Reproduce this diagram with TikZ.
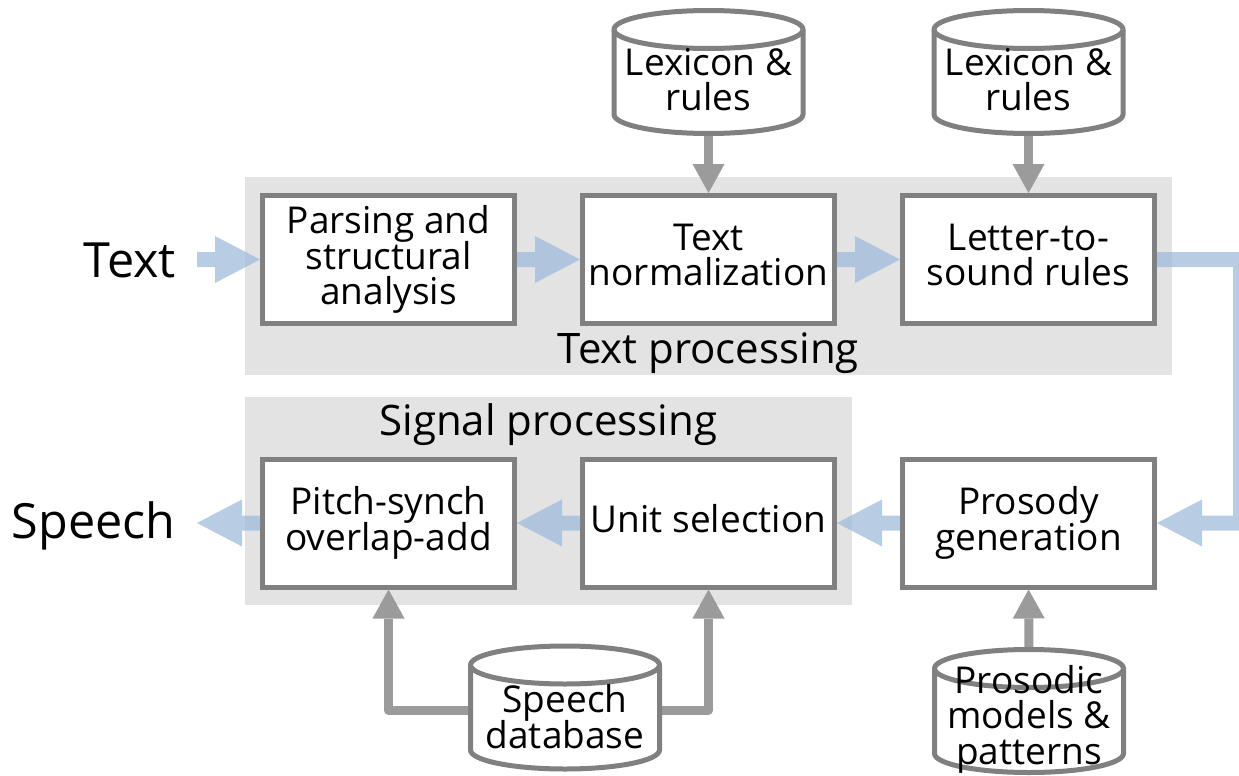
\documentclass[tikz,border=0pt]{standalone}
\usepackage{fontspec}
\setmainfont{Open Sans}
\usetikzlibrary{arrows.meta}

\definecolor{panelgray}{HTML}{E3E3E3}
\definecolor{boxgray}{HTML}{808080}
\definecolor{flowblue}{RGB}{160,187,219}
\definecolor{datagray}{HTML}{9B9B9B}

% body text: fixed line pitch, every line gets the same ascent/descent
\newcommand{\bodyfont}{\fontsize{37}{35.5}\selectfont\lineskiplimit=-30pt\relax}
\newcommand{\groupfont}{\fontsize{42}{44}\selectfont}
\newcommand{\termfont}{\fontsize{48.5}{50}\selectfont}
\newcommand{\linestrut}{\vrule width 0pt height 27pt depth 9pt\relax}

% a data store drum: centre x, centre y (path half-width 94.5, half-height 61.5, cap radius 19)
\newcommand{\drum}[2]{%
  \filldraw[drumline] ({#1-94.5},{#2-42.5}) -- ({#1-94.5},{#2+42.5})
    arc[start angle=180,end angle=0,x radius=94.5,y radius=19]
    -- ({#1+94.5},{#2-42.5})
    arc[start angle=0,end angle=-180,x radius=94.5,y radius=19] -- cycle;
  \draw[drumline] ({#1-94.5},{#2-42.5})
    arc[start angle=180,end angle=0,x radius=94.5,y radius=19];
}

\begin{document}
\begin{tikzpicture}[x=1pt,y=-1pt,
  panel/.style={fill=panelgray, draw=none},
  stage/.style={draw=boxgray, line width=5pt, fill=white, inner sep=0pt,
    minimum width=252pt, minimum height=128pt, align=center, font=\bodyfont,
    execute at begin node=\linestrut, execute at end node=\linestrut},
  storebox/.style={inner sep=0pt, outer sep=0pt, minimum width=189pt, minimum height=123pt},
  drumline/.style={draw=boxgray, fill=white, line width=5pt, line join=round},
  storetext/.style={align=center, font=\bodyfont, inner sep=0pt,
    execute at begin node=\linestrut, execute at end node=\linestrut},
  flow/.style={draw=flowblue, line width=15pt,
    -{Triangle[width=47pt,length=45pt,line width=0pt]}},
  flowgroup/.style={transparency group, opacity=0.75},
  data/.style={draw=datagray, line width=9pt, line join=round,
    -{Triangle[width=32pt,length=29pt,line width=0pt]}},
  grouplabel/.style={font=\groupfont, inner sep=0pt, anchor=base},
  termlabel/.style={font=\termfont, inner sep=0pt, anchor=base}]

\useasboundingbox (0,0) rectangle (1239,776);

% processing panels
\fill[panel] (245,177) rectangle (1172,375);
\fill[panel] (245,397) rectangle (852,605);
\node[grouplabel] (tplabel) at (708.3,363.3) {Text processing};
\node[grouplabel] (splabel) at (548.3,435.3) {Signal processing};

% stages
\node[stage] (parse) at (388.5,259.5) {Parsing and\\structural\\analysis};
\node[stage] (norm)  at (708.5,259.5) {Text\\normalization};
\node[stage] (l2s)   at (1028.5,259.5) {Letter-to-\\sound rules};
\node[stage] (psola) at (388.5,523) {Pitch-synch\\overlap-add};
\node[stage] (unit)  at (708.5,523) {Unit selection};
\node[stage] (pros)  at (1028.5,523) {Prosody\\generation};

% input and output
\node[termlabel] (text) at (129.7,277.3) {Text};
\node[termlabel] (speech) at (93.8,538.3) {Speech};
\coordinate (tin) at (197,259.5);
\coordinate (sout) at (197,523);
\coordinate (turn) at (1240.5,259.5);

% data stores
\node[storebox] (lex1) at (708.5,72) {};
\node[storebox] (lex2) at (1028.5,72) {};
\node[storebox] (sdb)  at (565,707.5) {};
\node[storebox] (pmod) at (1029,711) {};

% data connectors
\draw[data] (lex1.south) -- (norm.north);
\draw[data] (lex2.south) -- (l2s.north);
\draw[data] (pmod.north) -- (pros.south);
\draw[data] ([yshift=-2.5pt]sdb.west) -| (psola.south);
\draw[data] ([yshift=-2.5pt]sdb.east) -| (unit.south);

% drum bodies and their texts
\drum{708.5}{72}
\drum{1028.5}{72}
\drum{565}{707.5}
\drum{1029}{711}
\node[storetext] (lex1t) at (708.5,84) {Lexicon \&\\rules};
\node[storetext] (lex2t) at (1028.5,84) {Lexicon \&\\rules};
\node[storetext] (sdbt)  at (565,721) {Speech\\database};
\node[storetext] (pmodt) at (1029,719) {Prosodic\\models \&\\patterns};

% main flow
\begin{scope}[flowgroup]\draw[flow] (tin) -- (parse.west);\end{scope}
\begin{scope}[flowgroup]\draw[flow] (parse.east) -- (norm.west);\end{scope}
\begin{scope}[flowgroup]\draw[flow] (norm.east) -- (l2s.west);\end{scope}
\begin{scope}[flowgroup]\draw[flow] (l2s.east) -- (turn) |- (pros.east);\end{scope}
\begin{scope}[flowgroup]\draw[flow] (pros.west) -- (unit.east);\end{scope}
\begin{scope}[flowgroup]\draw[flow] (unit.west) -- (psola.east);\end{scope}
\begin{scope}[flowgroup]\draw[flow] (psola.west) -- (sout);\end{scope}

\end{tikzpicture}
\end{document}
